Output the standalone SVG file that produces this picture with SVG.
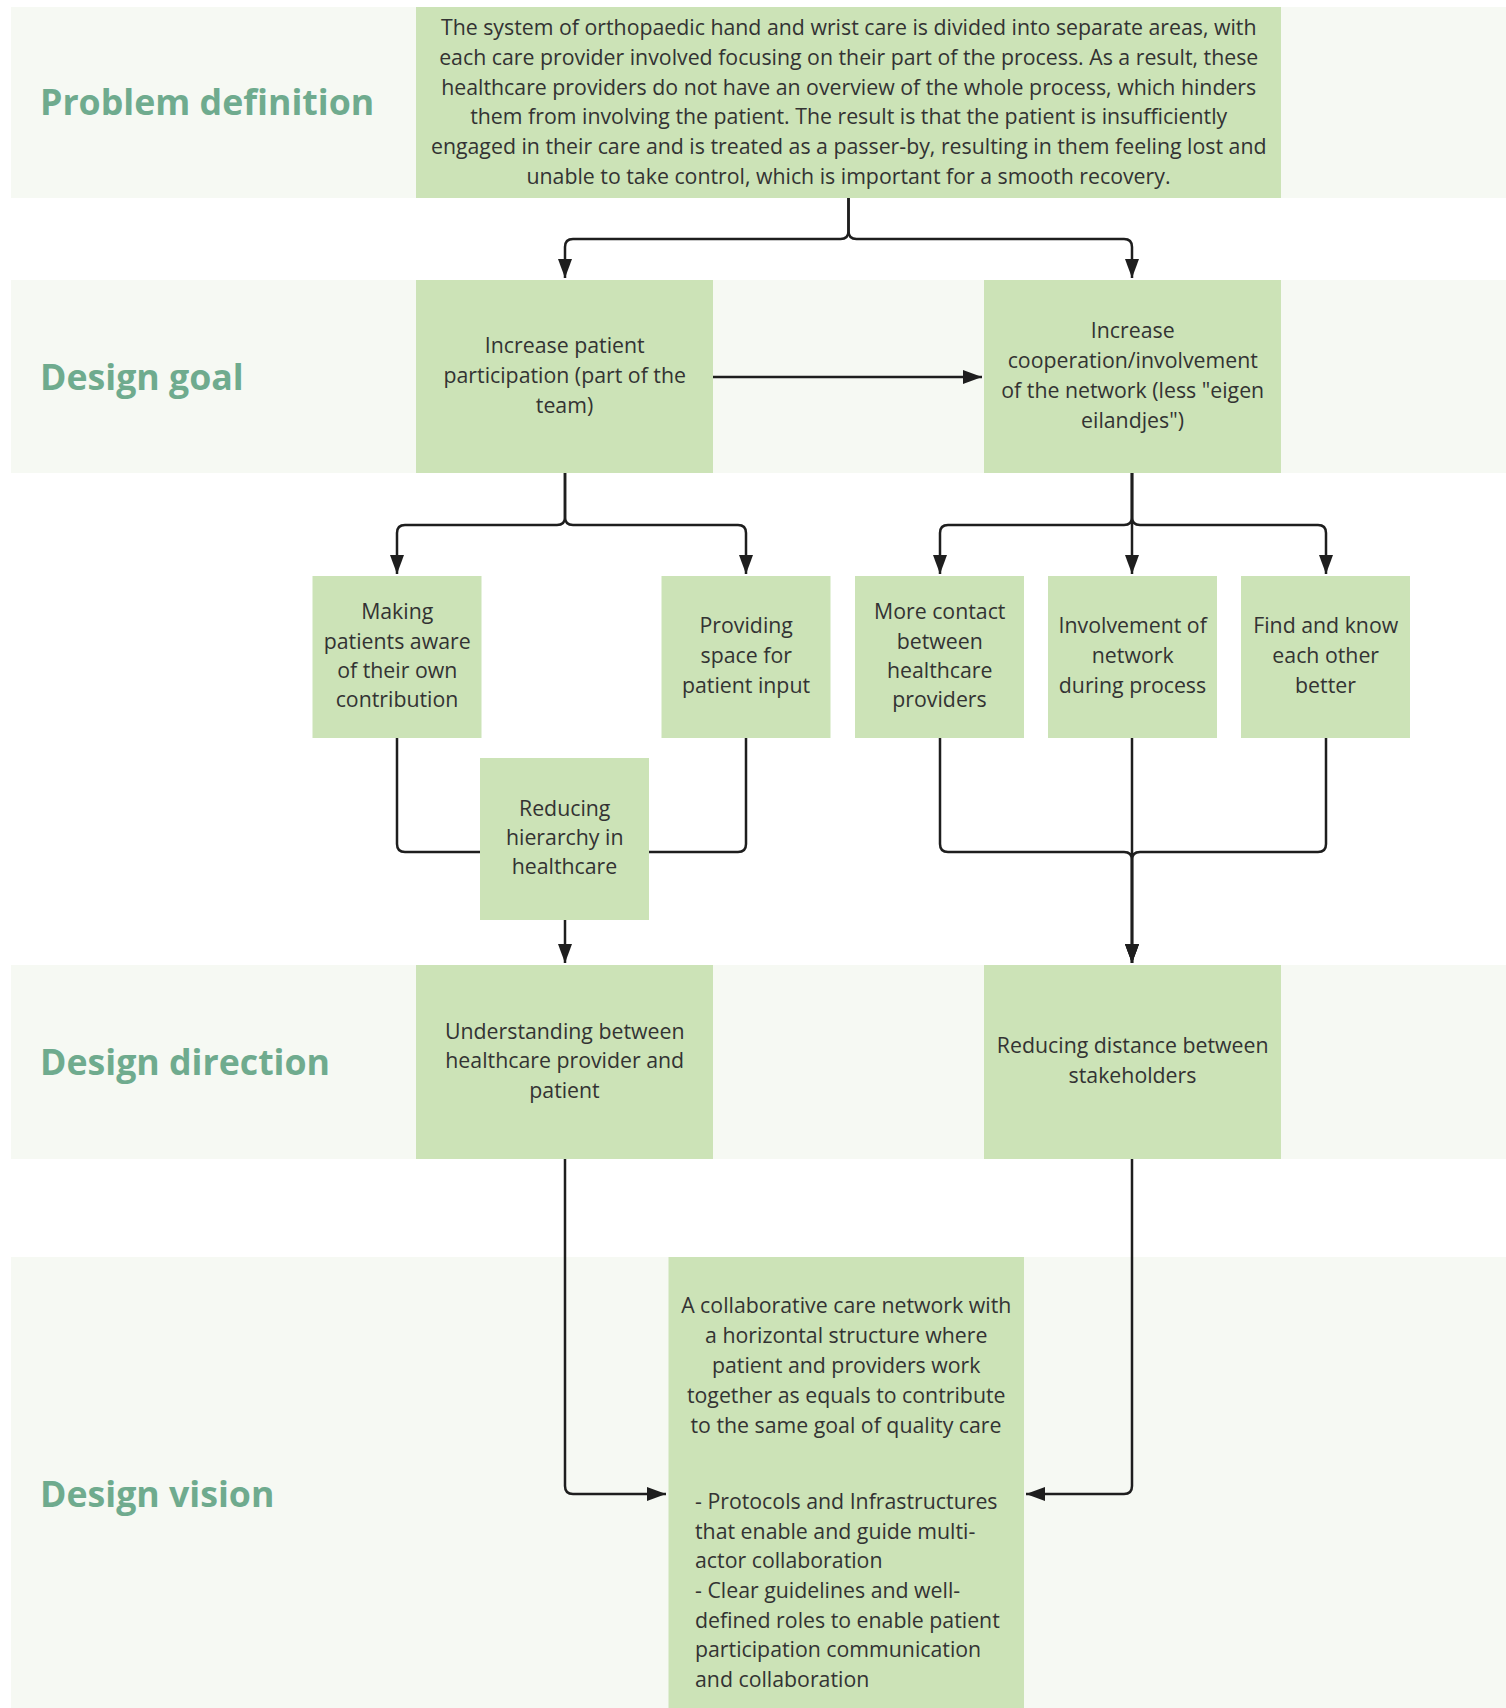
<svg xmlns="http://www.w3.org/2000/svg" width="1506" height="1708" viewBox="0 0 1506 1708">
  <defs>
    <style>
      .band { fill: #f6f9f3; }
      .box { fill: #cce3b7; }
      .title { font-family: "Open Sans", "Liberation Sans", sans-serif; font-weight: 700; font-size: 35.7px; fill: #6fab8e; }
      .txt { font-family: "Open Sans", "Liberation Sans", sans-serif; font-size: 21.3px; fill: #333333; text-anchor: middle; }
      .txt.left { text-anchor: start; }
      .conn { fill: none; stroke: #1e1e1e; stroke-width: 2.5; }
      .arr { marker-end: url(#head); }
    </style>
    <marker id="head" markerUnits="userSpaceOnUse" markerWidth="20" markerHeight="14" refX="19" refY="7" orient="auto">
      <path d="M0,0 L19,7 L0,14 z" fill="#1e1e1e"/>
    </marker>
  </defs>

  <rect width="1506" height="1708" fill="#ffffff"/>

  <!-- swimlane bands -->
  <g id="lanes">
    <rect class="band" x="11" y="7" width="1495" height="191"/>
    <rect class="band" x="11" y="280" width="1495" height="193"/>
    <rect class="band" x="11" y="965" width="1495" height="194"/>
    <rect class="band" x="11" y="1257" width="1495" height="451"/>
    <text class="title" x="40" y="115">Problem definition</text>
    <text class="title" x="40" y="390">Design goal</text>
    <text class="title" x="40" y="1075">Design direction</text>
    <text class="title" x="40" y="1507">Design vision</text>
  </g>

  <!-- connectors -->
  <g id="connectors">
    <path class="conn arr" d="M848.5,198 V231 Q848.5,239 840.5,239 H573 Q565,239 565,247 V278"/>
    <path class="conn arr" d="M848.5,198 V231 Q848.5,239 856.5,239 H1124 Q1132,239 1132,247 V278"/>
    <path class="conn arr" d="M713,377 H982"/>
    <path class="conn arr" d="M565,473 V517 Q565,525 557,525 H405 Q397,525 397,533 V574"/>
    <path class="conn arr" d="M565,473 V517 Q565,525 573,525 H738 Q746,525 746,533 V574"/>
    <path class="conn arr" d="M1132,473 V517 Q1132,525 1124,525 H948 Q940,525 940,533 V574"/>
    <path class="conn arr" d="M1132,473 V574"/>
    <path class="conn arr" d="M1132,473 V517 Q1132,525 1140,525 H1318 Q1326,525 1326,533 V574"/>
    <path class="conn" d="M397,738 V844 Q397,852 405,852 H480"/>
    <path class="conn" d="M746,738 V844 Q746,852 738,852 H649"/>
    <path class="conn arr" d="M565,920 V963"/>
    <path class="conn arr" d="M940,738 V844 Q940,852 948,852 H1124 Q1132,852 1132,860 V963"/>
    <path class="conn arr" d="M1132,738 V963"/>
    <path class="conn arr" d="M1326,738 V844 Q1326,852 1318,852 H1140 Q1132,852 1132,860 V963"/>
    <path class="conn arr" d="M565,1159 V1486 Q565,1494 573,1494 H666"/>
    <path class="conn arr" d="M1132,1159 V1486 Q1132,1494 1124,1494 H1026"/>
  </g>

  <g id="problem">
    <rect class="box" x="416" y="7" width="865" height="191"/>
    <text class="txt">
      <tspan x="851.5" y="35.3">The system of orthopaedic hand and wrist care is divided into separate areas, with</tspan>
      <tspan x="851.5" y="65">each care provider involved focusing on their part of the process. As a result, these</tspan>
      <tspan x="851.5" y="94.7">healthcare providers do not have an overview of the whole process, which hinders</tspan>
      <tspan x="851.5" y="124.3">them from involving the patient. The result is that the patient is insufficiently</tspan>
      <tspan x="851.5" y="154">engaged in their care and is treated as a passer-by, resulting in them feeling lost and</tspan>
      <tspan x="848.5" y="183.7">unable to take control, which is important for a smooth recovery.</tspan>
    </text>
  </g>

  <g id="goal-participation">
    <rect class="box" x="416" y="280" width="297" height="193"/>
    <text class="txt">
      <tspan x="567.5" y="352.7">Increase patient</tspan>
      <tspan x="567.5" y="382.7">participation (part of the</tspan>
      <tspan x="564.5" y="412.7">team)</tspan>
    </text>
  </g>

  <g id="goal-cooperation">
    <rect class="box" x="984" y="280" width="297" height="193"/>
    <text class="txt">
      <tspan x="1135.5" y="338.3">Increase</tspan>
      <tspan x="1135.5" y="368.3">cooperation/involvement</tspan>
      <tspan x="1135.5" y="398.3">of the network (less "eigen</tspan>
      <tspan x="1132.5" y="428.3">eilandjes")</tspan>
    </text>
  </g>

  <g id="making-aware">
    <rect class="box" x="312.5" y="576" width="169" height="162"/>
    <text class="txt">
      <tspan x="400" y="619.3">Making</tspan>
      <tspan x="400" y="648.6">patients aware</tspan>
      <tspan x="400" y="678">of their own</tspan>
      <tspan x="397" y="707.3">contribution</tspan>
    </text>
  </g>

  <g id="providing-space">
    <rect class="box" x="661.5" y="576" width="169" height="162"/>
    <text class="txt">
      <tspan x="749" y="633.3">Providing</tspan>
      <tspan x="749" y="662.8">space for</tspan>
      <tspan x="746" y="692.5">patient input</tspan>
    </text>
  </g>

  <g id="more-contact">
    <rect class="box" x="855" y="576" width="169" height="162"/>
    <text class="txt">
      <tspan x="942.5" y="619.3">More contact</tspan>
      <tspan x="942.5" y="648.6">between</tspan>
      <tspan x="942.5" y="678">healthcare</tspan>
      <tspan x="939.5" y="707.3">providers</tspan>
    </text>
  </g>

  <g id="network-involvement">
    <rect class="box" x="1048" y="576" width="169" height="162"/>
    <text class="txt">
      <tspan x="1135.5" y="633.3">Involvement of</tspan>
      <tspan x="1135.5" y="662.8">network</tspan>
      <tspan x="1132.5" y="692.5">during process</tspan>
    </text>
  </g>

  <g id="know-each-other">
    <rect class="box" x="1241" y="576" width="169" height="162"/>
    <text class="txt">
      <tspan x="1328.5" y="633.3">Find and know</tspan>
      <tspan x="1328.5" y="662.8">each other</tspan>
      <tspan x="1325.5" y="692.5">better</tspan>
    </text>
  </g>

  <g id="reducing-hierarchy">
    <rect class="box" x="480" y="758" width="169" height="162"/>
    <text class="txt">
      <tspan x="567.5" y="816">Reducing</tspan>
      <tspan x="567.5" y="845.2">hierarchy in</tspan>
      <tspan x="564.5" y="874.4">healthcare</tspan>
    </text>
  </g>

  <g id="understanding">
    <rect class="box" x="416" y="965" width="297" height="194"/>
    <text class="txt">
      <tspan x="567.5" y="1038.7">Understanding between</tspan>
      <tspan x="567.5" y="1068.3">healthcare provider and</tspan>
      <tspan x="564.5" y="1097.7">patient</tspan>
    </text>
  </g>

  <g id="reducing-distance">
    <rect class="box" x="984" y="965" width="297" height="194"/>
    <text class="txt">
      <tspan x="1135.5" y="1053.3">Reducing distance between</tspan>
      <tspan x="1132.5" y="1083.3">stakeholders</tspan>
    </text>
  </g>

  <g id="vision">
    <rect class="box" x="668.5" y="1257" width="355.5" height="451"/>
    <text class="txt">
      <tspan x="849" y="1313.3">A collaborative care network with</tspan>
      <tspan x="849" y="1343.1">a horizontal structure where</tspan>
      <tspan x="849" y="1373">patient and providers work</tspan>
      <tspan x="849" y="1402.8">together as equals to contribute</tspan>
      <tspan x="846" y="1432.7">to the same goal of quality care</tspan>
    </text>
    <text class="txt left">
      <tspan x="695" y="1509.3">- Protocols and Infrastructures</tspan>
      <tspan x="695" y="1538.9">that enable and guide multi-</tspan>
      <tspan x="695" y="1568.4">actor collaboration</tspan>
      <tspan x="695" y="1598">- Clear guidelines and well-</tspan>
      <tspan x="695" y="1627.5">defined roles to enable patient</tspan>
      <tspan x="695" y="1657.1">participation communication</tspan>
      <tspan x="695" y="1686.7">and collaboration</tspan>
    </text>
  </g>
</svg>
